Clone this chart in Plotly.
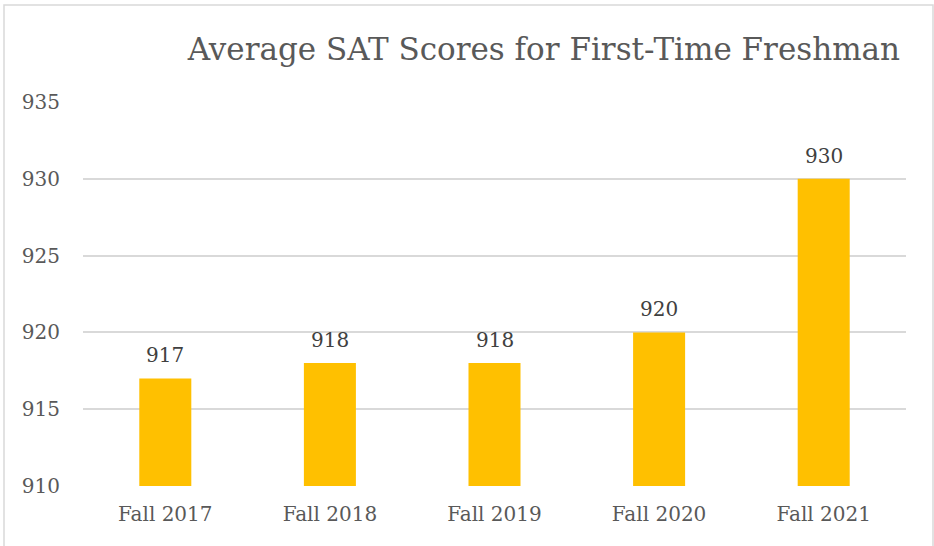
import plotly.graph_objects as go

categories = ["Fall 2017", "Fall 2018", "Fall 2019", "Fall 2020", "Fall 2021"]
scores = [917, 918, 918, 920, 930]
y_ticks = [910, 915, 920, 925, 930, 935]
title_text = "Average SAT Scores for First-Time Freshman"

FONT = "DejaVu Serif"

fig = go.Figure()
fig.add_trace(go.Bar(
    x=categories, y=scores,
    marker=dict(color="#FFC000", line=dict(width=0)),
    width=0.316,
    hoverinfo="x+y",
))

for c, v in zip(categories, scores):
    fig.add_annotation(
        x=c, y=v, text=str(v), showarrow=False,
        yanchor="bottom", yshift=9,
        font=dict(family=FONT, size=20, color="#404040"),
    )

fig.update_layout(
    width=934, height=546,
    margin=dict(l=83, r=28, t=102, b=60),
    paper_bgcolor="white", plot_bgcolor="white",
    showlegend=False,
    title=dict(
        text=title_text,
        font=dict(family=FONT, size=31, color="#595959"),
        x=900/934, xanchor="right", xref="container",
        y=1 - 49/546, yanchor="middle", yref="container",
    ),
    xaxis=dict(
        showgrid=False, showline=False, zeroline=False,
        tickfont=dict(family=FONT, size=20, color="#595959"),
        ticklabelstandoff=14,
    ),
    yaxis=dict(
        range=[910, 935], tickvals=y_ticks,
        showgrid=True, gridcolor="#d9d9d9", gridwidth=1.5,
        zeroline=False, showline=False,
        tickfont=dict(family=FONT, size=20, color="#595959"),
        ticklabelstandoff=22,
    ),
    shapes=[dict(
        type="rect", xref="paper", yref="paper",
        x0=(4 - 83) / 823, x1=(933 - 83) / 823,
        y0=(486 - 560) / 384, y1=(486 - 5) / 384,
        line=dict(color="#d9d9d9", width=1.5), fillcolor="rgba(0,0,0,0)",
        layer="below",
    )],
)

fig.write_html(
    "out.html",
    config={"displayModeBar": False},
    post_script="document.body.style.margin='0';document.body.style.overflow='hidden';",
)
